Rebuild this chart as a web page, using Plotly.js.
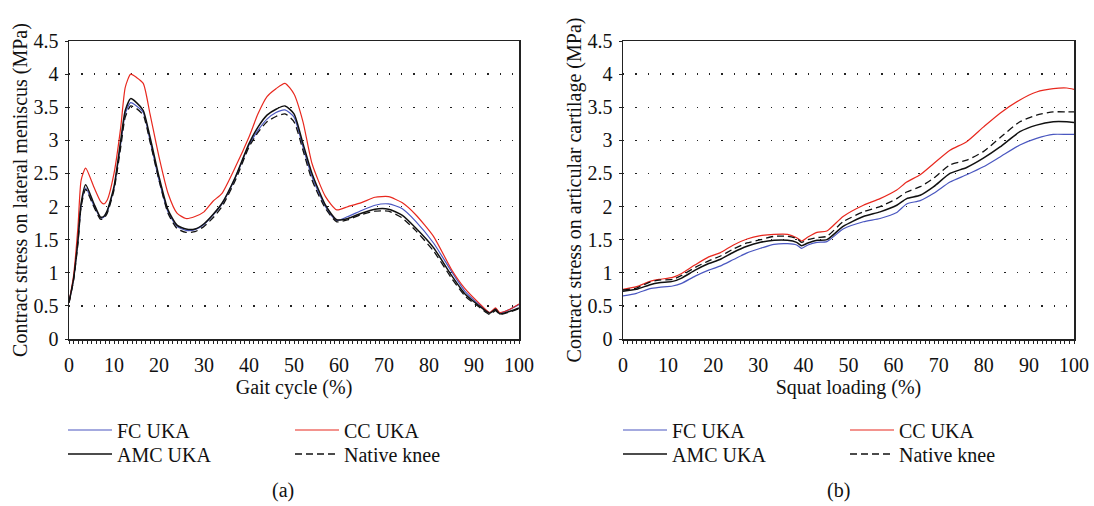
<!DOCTYPE html>
<html><head><meta charset="utf-8">
<script src="https://cdn.plot.ly/plotly-3.0.1.min.js"></script>
<style>html,body{margin:0;padding:0;background:#fff}#chart{width:1094px;height:506px}</style>
</head><body><div id="chart"></div>
<script>
// ---- Data: (a) gait cycle ----
const gaitX = [0,1,2,2.7,3.7,5.5,7,7.7,8.5,10,11.5,12.5,13.7,15,16.5,18,20,22,24,26,28,30,32,34,37,40,42,44,46,48,50,52,54,57,59.5,62,65,68,71,74,77,81,85,88,91,93.5,94.8,95.7,98,100];
const gaitFC = [0.55,0.9,1.5,2.02,2.28,2.02,1.83,1.84,1.92,2.28,2.95,3.4,3.57,3.52,3.42,3.0,2.4,1.92,1.7,1.64,1.65,1.73,1.87,2.04,2.44,2.93,3.15,3.32,3.42,3.46,3.35,2.9,2.45,2.0,1.79,1.85,1.94,2.02,2.04,1.97,1.78,1.45,1.02,0.72,0.53,0.4,0.46,0.39,0.45,0.52];
const gaitCC = [0.55,0.95,1.7,2.4,2.58,2.3,2.08,2.04,2.1,2.5,3.2,3.8,4.0,3.95,3.86,3.4,2.75,2.2,1.9,1.82,1.85,1.92,2.08,2.2,2.6,3.05,3.4,3.66,3.78,3.86,3.7,3.28,2.65,2.15,1.95,2.0,2.06,2.14,2.15,2.06,1.88,1.55,1.05,0.76,0.55,0.4,0.47,0.4,0.45,0.53];
const gaitAMC = [0.55,0.9,1.5,2.05,2.33,2.05,1.84,1.85,1.94,2.3,3.0,3.45,3.63,3.57,3.45,3.05,2.45,1.95,1.72,1.66,1.66,1.74,1.88,2.05,2.45,2.95,3.2,3.38,3.47,3.52,3.4,2.95,2.5,2.02,1.8,1.82,1.9,1.96,1.96,1.87,1.68,1.38,0.96,0.68,0.51,0.39,0.45,0.38,0.42,0.47];
const gaitNative = [0.55,0.88,1.45,2.0,2.26,2.0,1.81,1.82,1.9,2.25,2.9,3.35,3.52,3.48,3.38,2.98,2.4,1.9,1.67,1.61,1.62,1.7,1.83,2.0,2.4,2.9,3.12,3.28,3.36,3.4,3.28,2.85,2.4,1.97,1.77,1.8,1.88,1.93,1.93,1.83,1.64,1.33,0.92,0.65,0.49,0.37,0.43,0.37,0.41,0.46];

// ---- Data: (b) squat loading ----
const squatX = [0,3,6,8,11,13,16,19,21.5,24.5,27.5,30.5,33.5,36.5,38.5,39.6,41,43,45.2,48.8,53.3,57,60.7,62.9,65.9,68.9,72.5,76.2,79.9,83.6,88,91.7,95.4,98.4,100];
const squatFC = [0.65,0.69,0.76,0.78,0.8,0.84,0.95,1.04,1.1,1.2,1.3,1.37,1.43,1.44,1.42,1.37,1.42,1.46,1.47,1.66,1.77,1.82,1.91,2.04,2.09,2.2,2.37,2.48,2.6,2.75,2.93,3.03,3.09,3.09,3.09];
const squatCC = [0.75,0.79,0.87,0.9,0.93,0.99,1.12,1.24,1.3,1.42,1.51,1.56,1.58,1.58,1.53,1.48,1.54,1.61,1.63,1.85,2.02,2.12,2.25,2.37,2.48,2.65,2.85,2.98,3.2,3.41,3.61,3.73,3.78,3.79,3.77];
const squatAMC = [0.72,0.75,0.82,0.85,0.87,0.92,1.04,1.14,1.2,1.31,1.4,1.46,1.49,1.49,1.46,1.41,1.45,1.49,1.5,1.7,1.85,1.92,2.02,2.12,2.17,2.3,2.5,2.59,2.73,2.9,3.13,3.23,3.28,3.28,3.27];
const squatNative = [0.74,0.77,0.86,0.89,0.9,0.96,1.08,1.18,1.25,1.36,1.45,1.5,1.55,1.55,1.52,1.46,1.5,1.53,1.55,1.77,1.92,2.0,2.12,2.22,2.3,2.43,2.63,2.7,2.83,3.04,3.28,3.38,3.43,3.43,3.43];

const seriesNames = ['FC UKA','CC UKA','AMC UKA','Native knee'];
const xTitles = ['Gait cycle (%)','Squat loading (%)'];
const yTitles = ['Contract stress on lateral meniscus (MPa)','Contract stress on articular cartilage (MPa)'];
const panelLabels = ['(a)','(b)'];

const FONT = "'Liberation Serif', 'Times New Roman', serif";
const styles = [
  {color:'#4a57c0', width:1.2, dash:'solid'},
  {color:'#e8281e', width:1.2, dash:'solid'},
  {color:'#111111', width:1.5, dash:'solid'},
  {color:'#111111', width:1.3, dash:'7px,4px'}
];
// legend rows: row1 = FC, CC ; row2 = AMC, Native
const legendFor = [['legend','legend','legend2','legend2'],['legend3','legend3','legend4','legend4']];

const panels = [
  {x:gaitX, ys:[gaitFC,gaitCC,gaitAMC,gaitNative], xa:'x', ya:'y'},
  {x:squatX, ys:[squatFC,squatCC,squatAMC,squatNative], xa:'x2', ya:'y2'}
];
const traces = [];
panels.forEach((p,pi)=>{
  p.ys.forEach((ys,si)=>{
    traces.push({x:p.x, y:ys, type:'scatter', mode:'lines', name:seriesNames[si],
      xaxis:p.xa, yaxis:p.ya, legend:legendFor[pi][si],
      line:{color:styles[si].color, width:styles[si].width, dash:styles[si].dash, shape:'spline', smoothing:0.6}});
  });
});

const W=1094, L=69, R=20, T=41, B=167;
const pw = W-L-R;
const dom1 = [0, (519-L)/pw];
const dom2 = [(623-L)/pw, 1];

function xaxis(dom, title){
  return {domain:dom, range:[0,100], tickvals:[0,10,20,30,40,50,60,70,80,90,100],
    ticks:'outside', ticklen:3, tickwidth:1, tickcolor:'#222', ticklabelstandoff:4,
    minor:{dtick:1, tick0:0, ticks:'outside', ticklen:3, tickwidth:1, tickcolor:'#222', showgrid:false},
    showline:true, linecolor:'#222', linewidth:1.5, mirror:true, showgrid:false, zeroline:false,
    tickfont:{family:FONT, size:20, color:'#111'},
    title:{text:title, font:{family:FONT, size:20, color:'#111'}, standoff:4}, automargin:false, fixedrange:true};
}
function yaxis(title, anchor){
  return {range:[0,4.5], tickvals:[0,0.5,1,1.5,2,2.5,3,3.5,4,4.5], ticktext:['0','0.5','1','1.5','2','2.5','3','3.5','4','4.5'],
    ticks:'outside', ticklen:3, tickwidth:1, tickcolor:'#222', anchor:anchor, ticklabelstandoff:2,
    showline:true, linecolor:'#222', linewidth:1.5, mirror:true, zeroline:false,
    showgrid:true, gridcolor:'#222', gridwidth:1.3, griddash:'1.3px,11px',
    tickfont:{family:FONT, size:20, color:'#111'},
    title:{text:title, font:{family:FONT, size:20, color:'#111'}, standoff:0}, automargin:false, fixedrange:true};
}
function leg(xpx, ypx){
  return {x:(xpx-L)/pw, y:(339-ypx)/298, xanchor:'left', yanchor:'middle', orientation:'h',
    entrywidth:168, entrywidthmode:'pixels',
    bgcolor:'rgba(0,0,0,0)', font:{family:FONT, size:20, color:'#111'}, itemwidth:44};
}

const layout = {
  width:W, height:506, margin:{l:L, r:R, t:T, b:B}, paper_bgcolor:'#fff', plot_bgcolor:'#fff',
  font:{family:FONT, color:'#111'},
  xaxis:xaxis(dom1, xTitles[0]), yaxis:yaxis(yTitles[0],'x'),
  xaxis2:xaxis(dom2, xTitles[1]), yaxis2:yaxis(yTitles[1],'x2'),
  legend:leg(63,430), legend2:leg(63,454), legend3:leg(618,430), legend4:leg(618,454),
  annotations:[
    {text:panelLabels[0], xref:'paper', yref:'paper', x:(283-L)/pw, y:(339-490)/298, showarrow:false, xanchor:'center', yanchor:'middle', font:{family:FONT, size:20, color:'#111'}},
    {text:panelLabels[1], xref:'paper', yref:'paper', x:(838-L)/pw, y:(339-490)/298, showarrow:false, xanchor:'center', yanchor:'middle', font:{family:FONT, size:20, color:'#111'}}
  ],
  showlegend:true
};
Plotly.newPlot('chart', traces, layout, {displayModeBar:false, staticPlot:true});
</script></body></html>
